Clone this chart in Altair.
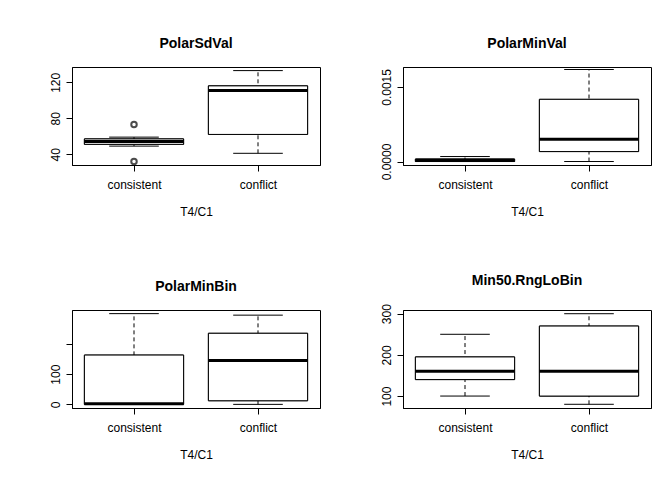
import altair as alt
import pandas as pd

titles = ["PolarSdVal", "PolarMinVal", "PolarMinBin", "Min50.RngLoBin"]
groups = ["consistent", "conflict"]
# five-number summaries per panel: [consistent, conflict]
lows = [[49, 41], [0.0, 0.0], [0, 0], [100, 80]]
q1s = [[51, 62], [0.0, 0.0002], [0, 12], [140, 100]]
meds = [[54, 111], [0.00002, 0.00045], [2, 145], [160, 160]]
q3s = [[57, 116], [0.00005, 0.00125], [163, 235], [195, 270]]
highs = [[59, 133], [0.0001, 0.00185], [300, 295], [250, 300]]
outliers = [[(1, 73), (1, 32)], [], [], []]
domains = [[28, 137], [-0.00007, 0.0019], [-12, 312], [71, 309]]
ticks = [[40, 60, 80, 100, 120], [0, 0.0005, 0.001, 0.0015],
         [0, 50, 100, 150, 200, 250], [100, 150, 200, 250, 300]]
label_sets = [[40, 80, 120], [0, 0.0015], [0, 100, 250], [100, 200, 300]]
fmts = ["d", ".4f", "d", "d"]


def panel(i):
    df = pd.DataFrame({
        "pos": [1, 2], "group": groups,
        "lo": lows[i], "q1": q1s[i], "med": meds[i], "q3": q3s[i], "hi": highs[i],
    })
    df["left"] = df["pos"] - 0.4
    df["right"] = df["pos"] + 0.4
    df["wl"] = df["pos"] - 0.2
    df["wr"] = df["pos"] + 0.2
    shown = ",".join(str(v) for v in label_sets[i])
    y = alt.Y("q1:Q", title=None, scale=alt.Scale(domain=domains[i], nice=False, zero=False),
              axis=alt.Axis(values=ticks[i], format=fmts[i], labelAngle=-90, labelAlign="center",
                            labelBaseline="bottom", labelPadding=4, labelOverlap=False,
                            labelExpr=f"indexof([{shown}], datum.value) >= 0 ? datum.label : ''"))
    x = alt.X("left:Q", title="T4/C1", scale=alt.Scale(domain=[0.5, 2.5], nice=False),
              axis=alt.Axis(values=[1, 2], labelExpr="datum.value == 1 ? 'consistent' : 'conflict'",
                            titlePadding=16, labelPadding=8))
    base = alt.Chart(df)
    whisk = base.mark_rule(color="black", strokeDash=[4, 3]).encode(
        x=alt.X("pos:Q"), y=alt.Y("lo:Q"), y2="hi:Q")
    caps_lo = base.mark_rule(color="black").encode(x=alt.X("wl:Q"), x2="wr:Q", y=alt.Y("lo:Q"))
    caps_hi = base.mark_rule(color="black").encode(x=alt.X("wl:Q"), x2="wr:Q", y=alt.Y("hi:Q"))
    box = base.mark_rect(fill="white", stroke="black", strokeWidth=1).encode(
        x=x, x2="right:Q", y=y, y2="q3:Q")
    med = base.mark_rule(color="black", strokeWidth=3).encode(
        x=alt.X("left:Q"), x2="right:Q", y=alt.Y("med:Q"))
    layers = [box, whisk, caps_lo, caps_hi, box, med]
    if outliers[i]:
        od = pd.DataFrame(outliers[i], columns=["pos", "v"])
        layers.append(alt.Chart(od).mark_point(shape="circle", color="black", size=30).encode(
            x=alt.X("pos:Q"), y=alt.Y("v:Q")))
    return alt.layer(*layers).properties(
        width=248, height=98,
        title=alt.TitleParams(titles[i], fontSize=14, fontWeight="bold", offset=16))


row1 = alt.hconcat(panel(0), panel(1), spacing=58)
row2 = alt.hconcat(panel(2), panel(3), spacing=58)
chart = alt.vconcat(row1, row2, spacing=55).configure_view(
    stroke="black", strokeWidth=1
).configure_axis(
    grid=False, domainColor="black", tickColor="black", labelColor="black",
    titleColor="black", labelFontSize=12, titleFontSize=12, titleFontWeight="normal",
    labelFont="Liberation Sans", titleFont="Liberation Sans", tickSize=6
).configure_title(font="Liberation Sans", color="black").properties(
    background="white", padding={"left": 40, "top": 28, "right": 5, "bottom": 5})

chart.save("out.html", embed_options={"renderer": "svg", "actions": False})
